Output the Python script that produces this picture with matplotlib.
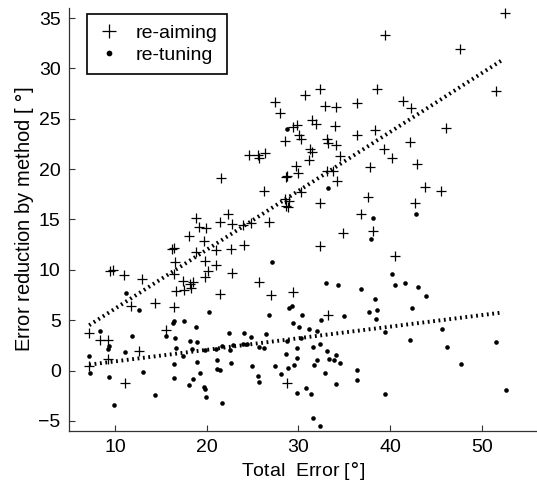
import numpy as np
import matplotlib
matplotlib.use('Agg')
import matplotlib.pyplot as plt

plt.rcParams['font.family'] = ['Liberation Sans', 'DejaVu Sans']
plt.rcParams['lines.scale_dashes'] = False

# re-aiming points (total error, reduction)
aim_x = [7.2, 8.4, 9.3, 9.2, 7.2, 11.1, 12.6, 15.6, 9.5, 9.8, 11.0, 13.0, 11.8, 14.4,
         16.4, 16.5, 16.4, 17.4, 16.7, 17.5, 18.2, 18.5, 18.3, 19.8, 19.8, 20.2, 21.0,
         21.5, 22.8, 21.6, 22.3, 18.8, 21.5, 19.2, 19.9, 22.8, 18.1, 19.7, 16.4, 16.2,
         18.8, 21.0, 22.7, 32.4, 38.6, 30.7, 27.4, 28.0, 32.9, 34.1, 36.4, 29.4, 29.8,
         31.5, 31.9, 34.0, 30.1, 30.3, 28.5, 33.1, 33.2, 34.1, 36.4, 38.4, 31.3, 31.5,
         31.1, 24.6, 25.6, 26.4, 25.7, 34.5, 39.3, 40.2, 29.7, 30.0, 28.6, 28.8, 33.1,
         33.8, 37.8, 34.2, 26.2, 30.3, 28.5, 29.0, 28.7, 28.9, 32.4, 37.6, 36.8, 24.0,
         24.8, 26.8, 34.9, 38.1, 24.1, 32.4, 40.5, 52.5, 47.6, 51.5, 41.4, 42.3, 46.1,
         42.2, 42.9, 43.8, 45.5, 42.7, 39.4, 25.7, 27.0, 29.4, 33.2, 28.8]
aim_y = [3.7, 3.0, 3.0, 1.1, 0.45, -1.2, 1.9, 4.0, 9.9, 10.0, 9.5, 9.1, 6.4, 6.7,
         6.3, 10.8, 9.6, 8.9, 7.9, 8.0, 8.6, 8.8, 8.2, 10.9, 9.3, 9.9, 10.5,
         7.6, 9.7, 19.1, 15.5, 15.1, 14.8, 14.3, 14.2, 14.6, 13.4, 12.9, 12.2, 12.1,
         11.8, 12.0, 12.1, 28.0, 28.0, 27.4, 26.7, 25.6, 26.3, 26.2, 26.6, 24.2, 24.4,
         24.9, 24.5, 24.3, 23.4, 23.0, 22.8, 23.0, 22.6, 22.4, 23.4, 23.9, 22.0, 21.7,
         20.9, 21.4, 21.4, 21.6, 21.1, 21.3, 22.0, 21.1, 20.3, 19.6, 19.2, 19.3, 19.8,
         19.8, 20.2, 18.8, 17.8, 17.7, 17.0, 16.8, 16.3, 16.2, 16.6, 17.2, 15.5, 14.5,
         14.7, 14.8, 13.7, 13.9, 12.5, 12.4, 11.4, 35.5, 31.9, 27.8, 26.8, 26.1, 24.1,
         22.7, 20.5, 18.2, 17.8, 16.6, 33.3, 8.8, 7.5, 7.8, 5.5, -1.2]

# re-tuning points
tune_x = [28.8, 38.1, 37.9, 33.2, 42.8, 40.2, 40.5, 41.6, 43.0, 43.9, 42.4, 45.6, 42.2,
          46.2, 51.5, 47.7, 52.6, 27.1, 33.0, 34.3, 36.8, 38.4, 37.7, 38.6, 38.5, 29.0,
          29.3, 26.8, 30.4, 35.0, 32.5, 29.4, 30.1, 31.2, 32.0, 39.4, 24.1, 24.8, 26.5,
          22.9, 24.0, 24.4, 25.7, 26.3, 28.8, 30.3, 29.8, 31.6, 32.4, 33.1, 34.1,
          33.3, 33.9, 34.5, 28.6, 29.9, 32.0, 22.7, 24.9, 27.5, 29.5, 28.9, 31.7, 25.6,
          25.7, 28.1, 32.9, 36.4, 36.4, 34.1, 29.9, 30.8, 31.4, 39.4, 31.6, 32.4, 11.2,
          12.6, 20.3, 16.4, 16.3, 17.5, 18.8, 8.4, 11.9, 15.6, 16.5, 22.4, 9.4, 9.2, 16.7,
          18.2, 19.0, 18.4, 19.8, 21.0, 21.7, 22.5, 11.1, 17.4, 7.2, 19.0, 21.1, 16.4,
          21.1, 21.5, 7.3, 13.1, 9.4, 16.4, 19.3, 18.5, 18.1, 19.7, 19.8, 19.9, 21.7,
          14.4, 9.9]
tune_y = [24.0, 15.1, 13.1, 18.1, 15.5, 9.6, 8.5, 8.7, 8.3, 7.4, 6.2, 4.1, 3.0,
          2.3, 2.8, 0.7, -1.9, 10.8, 8.7, 8.5, 8.1, 7.1, 5.8, 6.0, 5.1, 6.2,
          6.4, 5.5, 5.5, 5.4, 5.0, 4.7, 4.3, 4.1, 3.9, 3.8, 3.7, 3.3, 3.6,
          2.5, 2.6, 2.6, 2.3, 2.2, 2.9, 3.2, 2.2, 2.3, 2.6, 1.9, 1.5,
          1.1, 1.0, 0.8, 1.6, 1.2, 1.0, 0.8, 0.5, 0.5, 0.6, 0.3, 0.6, -0.5,
          -1.1, -0.3, -0.2, 0.1, -0.9, -1.3, -2.2, -1.7, -2.3, -2.3, -4.7, -5.5, 7.7,
          6.0, 5.8, 4.9, 4.7, 4.9, 4.3, 3.9, 3.4, 3.4, 3.2, 3.7, 2.4, 2.1, 2.2,
          2.9, 2.8, 2.1, 2.0, 2.1, 2.4, 2.0, 1.8, 1.4, 1.4, 0.9, 1.0, 0.7,
          0.2, 0.05, -0.25, -0.1, -0.6, -0.7, -0.25, -0.8, -1.4, -1.6, -1.8, -2.6, -3.2,
          -2.4, -3.4]

# linear trend lines (slope, intercept)
aim_fit = [0.585, 0.29]
tune_fit = [0.115, -0.24]
fit_range = [7.2, 52.3]

fig = plt.figure(figsize=(5.37, 4.87), dpi=100)
ax = fig.add_axes([0.1285, 0.115, 0.8715, 0.8686])

ax.plot(aim_x, aim_y, '+', color='k', markersize=7.5, mew=0.9, label='re-aiming')
ax.plot(tune_x, tune_y, 'o', color='k', markersize=3.3, mew=0, label='re-tuning')

fx = np.array(fit_range)
for fit in (aim_fit, tune_fit):
    ax.plot(fx, np.polyval(fit, fx), color='k', lw=2.8, dashes=(1.3, 2.6),
            dash_capstyle='butt')

ax.set_xlim(5, 56)
ax.set_ylim(-6, 36)
ax.set_xticks([10, 20, 30, 40, 50])
ax.set_yticks(range(-5, 36, 5))
ax.spines['top'].set_visible(False)
ax.spines['right'].set_visible(False)
for s in ('left', 'bottom'):
    ax.spines[s].set_color('#333333')
    ax.spines[s].set_linewidth(0.9)
ax.tick_params(direction='in', length=4, width=0.8, color='#333333',
               labelsize=14, pad=6)
ax.set_xlabel('Total  Error [$\\degree$]', fontsize=14, labelpad=3)
ax.set_ylabel('Error reduction by method [ $\\degree$]', fontsize=14.5, labelpad=2)

leg = ax.legend(loc='upper left', bbox_to_anchor=(0.038, 0.985), fontsize=14,
                frameon=True, fancybox=False, framealpha=1, edgecolor='k',
                handlelength=1.3, handletextpad=0.7, borderpad=0.5,
                labelspacing=0.25, borderaxespad=0, markerscale=1.25)
leg.get_frame().set_linewidth(1.2)

fig.savefig('out.png', dpi=100)
